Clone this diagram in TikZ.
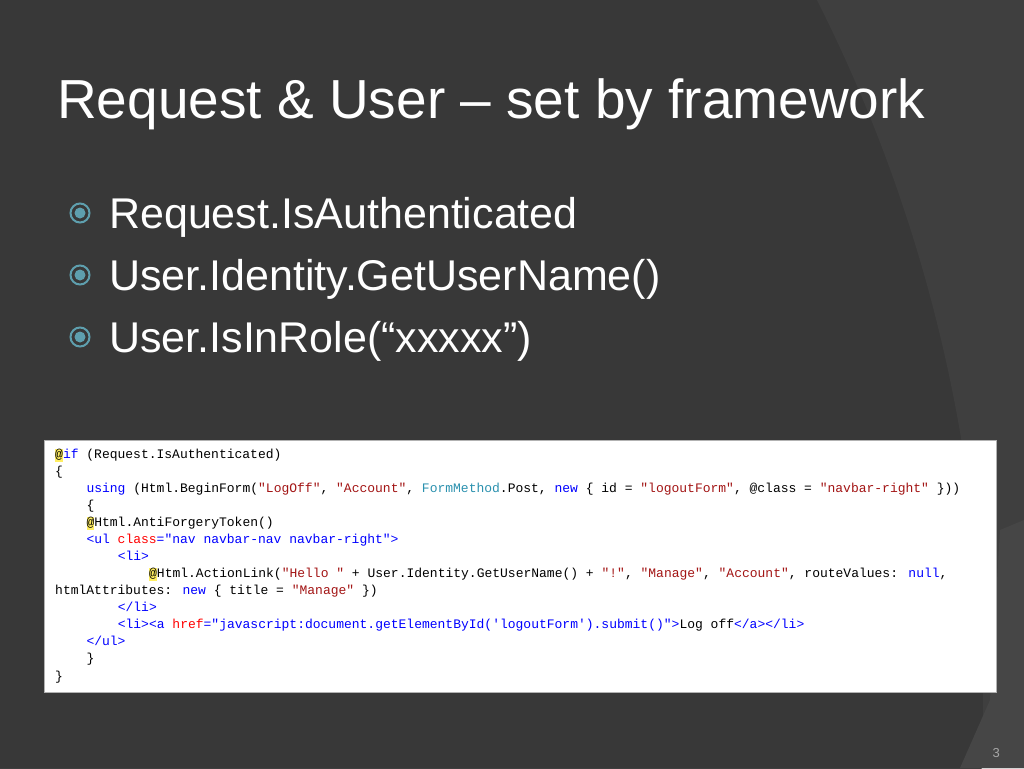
\documentclass[tikz,border=0pt]{standalone}
\usepackage{fontspec}
\setmainfont{Liberation Sans}
\newfontfamily\codefont{Liberation Mono}
\definecolor{bg}{HTML}{383838}
\definecolor{bgl}{HTML}{3F3F3F}
\definecolor{bgll}{HTML}{464646}
\definecolor{kwc}{HTML}{0000FF}
\definecolor{stc}{HTML}{A31515}
\definecolor{atc}{HTML}{FF0000}
\definecolor{tyc}{HTML}{2B91AF}
\definecolor{hlc}{HTML}{FFEE62}
\definecolor{bul}{HTML}{5E9FAE}
\newcommand\kw[1]{\textcolor{kwc}{#1}}
\newcommand\st[1]{\textcolor{stc}{#1}}
\newcommand\at[1]{\textcolor{atc}{#1}}
\newcommand\ty[1]{\textcolor{tyc}{#1}}
\newcommand\hla{{\setlength\fboxsep{0pt}\colorbox{hlc}{\strut @}}}
\begin{document}
\begin{tikzpicture}[x=1pt,y=-1pt,
  codeline/.style={anchor=base west,inner sep=0pt,font=\codefont\fontsize{13}{13}\selectfont},
  bullettext/.style={anchor=base west,inner sep=0pt,text=white,font=\fontsize{43}{43}\selectfont}]
\useasboundingbox (0,0) rectangle (1024,768);
\fill[bg] (0,0) rectangle (1024,768);
\begin{scope}
\clip (0,0) rectangle (1024,768);
\fill[bgl,even odd rule] (0,0) rectangle (1024,768) (-572,700) circle (1555);
\fill[bgll] (1000,530) -- (1024,520) -- (1024,768) -- (960,768) -- (990,700) -- cycle;
\end{scope}
\node[anchor=base west,inner sep=0pt,text=white,font=\fontsize{55}{55}\selectfont] (title) at (57,118) {Request \& User – set by framework};
\foreach \y/\t [count=\i] in {228/Request.IsAuthenticated,290/User.Identity.GetUserName(),352/User.IsInRole(“xxxxx”)}{
  \node[circle,draw=bul,line width=2pt,minimum size=19pt,inner sep=0pt] (b\i) at (80,\y-15) {};
  \fill[bul] (b\i.center) circle (5.5);
  \node[bullettext] (t\i) at (109,\y) {\t};
}
\node[draw=gray!60,fill=white,minimum width=952pt,minimum height=252pt,anchor=north west,inner sep=0pt] (box) at (44,440) {};
\def\cw{7.83}
\foreach \c/\l/\txt in {
 0/1/{\hla\kw{if} (Request.IsAuthenticated)},
 0/2/{\{},
 4/3/{\kw{using} (Html.BeginForm(\st{"LogOff"}, \st{"Account"}, \ty{FormMethod}.Post, \kw{new} \{ id = \st{"logoutForm"}, @class = \st{"navbar-right"} \}))},
 4/4/{\{},
 4/5/{\hla Html.AntiForgeryToken()},
 4/6/{\kw{<ul} \at{class}\kw{="nav navbar-nav navbar-right">}},
 8/7/{\kw{<li>}},
 12/8/{\hla Html.ActionLink(\st{"Hello "} + User.Identity.GetUserName() + \st{"!"}, \st{"Manage"}, \st{"Account"}, routeValues: \kw{null},},
 0/9/{htmlAttributes: \kw{new} \{ title = \st{"Manage"} \})},
 8/10/{\kw{</li>}},
 8/11/{\kw{<li><a} \at{href}\kw{="javascript:document.getElementById('logoutForm').submit()">}Log off\kw{</a></li>}},
 4/12/{\kw{</ul>}},
 4/13/{\}},
 0/14/{\}}}{
  \node[codeline] (c\l) at (55+\c*\cw,458+\l*17.08-17.08) {\txt};
}
\node[anchor=base east,inner sep=0pt,text=gray!70,font=\fontsize{13}{13}\selectfont] (pg) at (1000,757) {3};
\end{tikzpicture}
\end{document}
